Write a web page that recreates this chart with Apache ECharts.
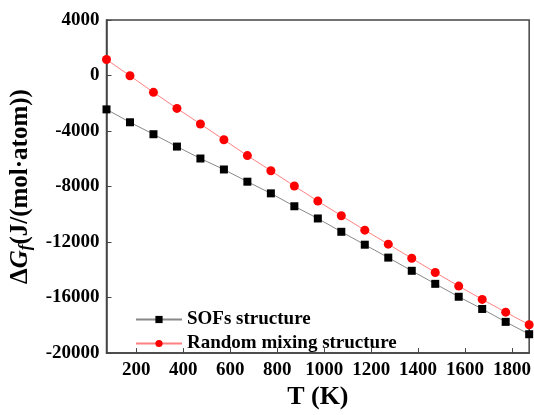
<!DOCTYPE html>
<html>
<head>
<meta charset="utf-8">
<script src="https://cdn.jsdelivr.net/npm/echarts@6/dist/echarts.min.js"></script>
<style>
html,body{margin:0;padding:0;background:#fff;}
#chart{width:534px;height:415px;}
</style>
</head>
<body>
<div id="chart"></div>
<script>
// temperatures (K)
var temps = [73,173,273,373,473,573,673,773,873,973,1073,1173,1273,1373,1473,1573,1673,1773,1873];
// formation free energy, J/(mol·atom)
var sofs = [-2440,-3370,-4230,-5120,-5980,-6770,-7650,-8490,-9420,-10300,-11260,-12190,-13120,-14070,-15010,-15940,-16820,-17750,-18640];
var random = [1150,-20,-1210,-2370,-3490,-4630,-5770,-6860,-7960,-9050,-10100,-11140,-12150,-13170,-14190,-15170,-16130,-17050,-17960];
var xTicks = [200,400,600,800,1000,1200,1400,1600,1800];

var font = 'Liberation Serif';

function pairs(ys){
	var out = [];
	for(var i = 0; i < temps.length; i++){
		out.push([temps[i], ys[i]]);
	}
	return out;
}

var chart = echarts.init(document.getElementById('chart'));
var option = {
	animation:false,
	grid:{
		left:106,
		top:20,
		right:2,
		bottom:51,
		show:true,
		borderColor:'#444',
		borderWidth:1.5
	},
	legend:{
		left:130,
		top:305,
		orient:'vertical',
		itemWidth:46,
		itemHeight:9,
		itemGap:5,
		textStyle:{fontFamily:font,fontWeight:'bold',fontSize:19,color:'#000'},
		data:['SOFs structure','Random mixing structure']
	},
	xAxis:{
		type:'value',
		min:73,
		max:1873,
		name:'T (K)',
		nameLocation:'middle',
		nameGap:26,
		nameTextStyle:{fontFamily:font,fontWeight:'bold',fontSize:26,color:'#000'},
		axisLine:{onZero:false,lineStyle:{color:'#444',width:1.5}},
		axisTick:{inside:true,length:5,customValues:xTicks,lineStyle:{color:'#444'}},
		axisLabel:{customValues:xTicks,fontFamily:font,fontWeight:'bold',fontSize:19,color:'#000',margin:7,
			formatter:function(v){return String(v);}},
		splitLine:{show:false}
	},
	yAxis:{
		type:'value',
		min:-20000,
		max:4000,
		interval:4000,
		name:'{d|Δ}{g|G}{s|f}{d|(J/(mol·atom))}',
		nameLocation:'middle',
		nameRotate:90,
		nameGap:72,
		nameTextStyle:{
			fontFamily:font,fontWeight:'bold',fontSize:25,color:'#000',
			rich:{
				d:{fontFamily:font,fontWeight:'bold',fontSize:25,color:'#000'},
				g:{fontFamily:font,fontWeight:'bold',fontStyle:'italic',fontSize:25,color:'#000'},
				s:{fontFamily:font,fontWeight:'bold',fontStyle:'italic',fontSize:17,color:'#000',padding:[11,0,0,0]}
			}
		},
		axisLine:{show:true,onZero:false,lineStyle:{color:'#444',width:1.5}},
		axisTick:{inside:true,length:5,lineStyle:{color:'#444'}},
		axisLabel:{fontFamily:font,fontWeight:'bold',fontSize:19,color:'#000',margin:7,
			formatter:function(v){return String(v);}},
		splitLine:{show:false}
	},
	series:[{
		name:'SOFs structure',
		type:'line',
		data:pairs(sofs),
		symbol:'rect',
		symbolSize:8,
		itemStyle:{color:'#000'},
		lineStyle:{color:'#888',width:1}
	},{
		name:'Random mixing structure',
		type:'line',
		data:pairs(random),
		symbol:'circle',
		symbolSize:9,
		itemStyle:{color:'#ff0000'},
		lineStyle:{color:'#ff8080',width:1}
	}]
};
chart.setOption(option);
</script>
</body>
</html>
